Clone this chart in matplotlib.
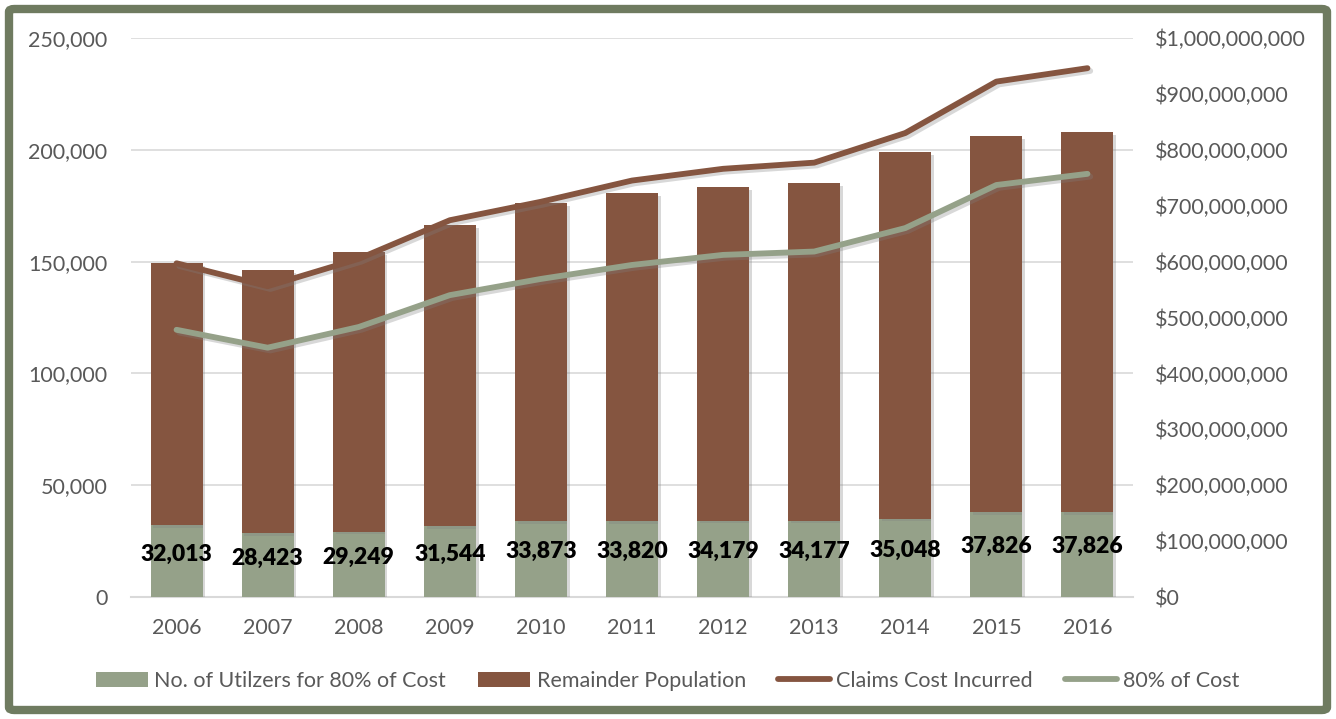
import matplotlib
matplotlib.use("Agg")
import matplotlib.pyplot as plt
import matplotlib.patheffects as pe
from matplotlib.patches import FancyBboxPatch
from matplotlib.ticker import FuncFormatter, MultipleLocator

years = ['2006', '2007', '2008', '2009', '2010', '2011', '2012', '2013', '2014', '2015', '2016']
utilizers = [32013, 28423, 29249, 31544, 33873, 33820, 34179, 34177, 35048, 37826, 37826]
remainder = [117400, 117900, 125050, 134860, 142430, 146880, 149220, 151020, 163950, 168370, 170170]
claims_cost = [597e6, 556e6, 605e6, 674e6, 707e6, 745e6, 766e6, 777e6, 830e6, 922e6, 946e6]
cost_80 = [478e6, 446e6, 483e6, 540e6, 569e6, 594e6, 612e6, 618e6, 660e6, 737e6, 757e6]

GREEN = '#95A189'
BROWN = '#855540'
BORDER = '#6F7B60'
TEXT = '#595959'
FS = 15.5

plt.rcParams['font.family'] = ['Lato', 'DejaVu Sans']

fig = plt.figure(figsize=(13.36, 7.19), dpi=100)
ax = fig.add_axes([131 / 1336, 1 - 597 / 719, (1133 - 131) / 1336, (597 - 38) / 719])

x = list(range(len(years)))
shadow = [pe.SimplePatchShadow(offset=(2, -2), shadow_rgbFace='gray', alpha=0.3), pe.Normal()]
b1 = ax.bar(x, utilizers, width=0.57, color=GREEN, label='No. of Utilzers for 80% of Cost', zorder=3)
b2 = ax.bar(x, remainder, width=0.57, bottom=utilizers, color=BROWN, label='Remainder Population', zorder=3)
for b in list(b1) + list(b2):
    b.set_path_effects(shadow)

# value labels sit a bit above the middle of the green segment
for xi, v in zip(x, utilizers):
    ax.text(xi, v * 0.6, f'{v:,}', ha='center', va='center', fontsize=16.5,
            fontweight='heavy', color='black', zorder=6)

ax.set_xlim(-0.5, len(years) - 0.5)
ax.set_ylim(0, 250000)
ax.yaxis.set_major_locator(MultipleLocator(50000))
ax.yaxis.set_major_formatter(FuncFormatter(lambda v, p: f'{int(v):,}'))
ax.set_xticks(x)
ax.set_xticklabels(years)
ax.grid(axis='y', color='#D9D9D9', linewidth=1.2, zorder=0)
ax.set_axisbelow(True)
for s in ['top', 'right', 'left']:
    ax.spines[s].set_visible(False)
ax.spines['bottom'].set_color('#D9D9D9')
ax.spines['bottom'].set_linewidth(1.5)
ax.tick_params(axis='both', length=0, labelsize=FS, colors=TEXT)
ax.tick_params(axis='y', pad=17)
ax.tick_params(axis='x', pad=15)

ax2 = ax.twinx()
line_shadow = [pe.SimpleLineShadow(offset=(2, -2), shadow_color='gray', alpha=0.3), pe.Normal()]
l1, = ax2.plot(x, claims_cost, color=BROWN, linewidth=4.2, solid_capstyle='round',
               label='Claims Cost Incurred', zorder=4, path_effects=line_shadow)
l2, = ax2.plot(x, cost_80, color=GREEN, linewidth=4.2, solid_capstyle='round',
               label='80% of Cost', zorder=4, path_effects=line_shadow)
ax2.set_ylim(0, 1e9)
ax2.yaxis.set_major_locator(MultipleLocator(1e8))
ax2.yaxis.set_major_formatter(FuncFormatter(lambda v, p: f'${int(v):,}'))
for s in ax2.spines.values():
    s.set_visible(False)
ax2.tick_params(axis='y', length=0, labelsize=FS, colors=TEXT, pad=16)

leg = fig.legend(handles=[b1, b2, l1, l2], loc='center', bbox_to_anchor=(0.5, 1 - 681 / 719),
                 ncol=4, frameon=False, fontsize=FS, handlelength=2.4, handleheight=0.7,
                 handletextpad=0.3, columnspacing=1.5, labelcolor=TEXT)
for h in leg.legend_handles:
    h.set_path_effects([])

border = FancyBboxPatch((9 / 1336, 9 / 719), 1 - 18 / 1336, 1 - 18 / 719,
                        boxstyle='round,pad=0,rounding_size=0.004', transform=fig.transFigure,
                        facecolor='none', edgecolor=BORDER, linewidth=6, zorder=10)
fig.patches.append(border)

fig.savefig('out.png', dpi=100, facecolor='white')
